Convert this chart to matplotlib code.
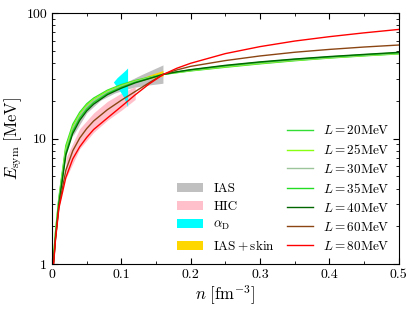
import matplotlib
matplotlib.use("Agg")
import matplotlib.pyplot as plt
from matplotlib.ticker import FixedLocator, FuncFormatter, LogLocator, NullFormatter

plt.rcParams["font.family"] = "cmr10"
plt.rcParams["mathtext.fontset"] = "cm"
plt.rcParams["axes.formatter.use_mathtext"] = True
plt.rcParams["axes.unicode_minus"] = False

# density grid (fm^-3) shared by the L-curves
n_grid = [0.002, 0.005, 0.01, 0.02, 0.03, 0.04, 0.05, 0.06, 0.08, 0.1, 0.12, 0.14,
          0.16, 0.18, 0.2, 0.25, 0.3, 0.35, 0.4, 0.45, 0.5]

e_L20 = [1.1, 1.8, 3.4, 8.8, 13.0, 16.2, 18.9, 21.0, 24.3, 26.9, 29.0, 30.8,
         32.4, 33.5, 34.6, 37.0, 39.4, 41.7, 43.8, 45.6, 47.3]
e_L25 = [1.08, 1.75, 3.3, 8.4, 12.5, 15.7, 18.4, 20.5, 23.9, 26.5, 28.7, 30.6,
         32.4, 33.6, 34.8, 37.3, 39.7, 42.0, 44.0, 45.8, 47.5]
e_L30 = [1.05, 1.7, 3.2, 8.0, 12.0, 15.2, 17.9, 20.0, 23.4, 26.1, 28.4, 30.4,
         32.4, 33.8, 35.0, 37.7, 40.1, 42.3, 44.3, 46.1, 47.8]
e_L35 = [1.03, 1.65, 3.1, 7.7, 11.5, 14.6, 17.2, 19.4, 22.9, 25.7, 28.1, 30.2,
         32.4, 33.9, 35.2, 38.0, 40.5, 42.7, 44.7, 46.5, 48.2]
e_L40 = [1.0, 1.6, 3.0, 7.4, 11.0, 14.0, 16.6, 18.8, 22.4, 25.2, 27.8, 30.0,
         32.4, 34.0, 35.4, 38.3, 40.8, 43.0, 45.0, 46.8, 48.6]
e_L60 = [0.97, 1.6, 2.9, 5.6, 8.0, 10.1, 12.0, 13.8, 17.0, 20.2, 23.7, 27.8,
         32.4, 35.2, 37.6, 41.8, 45.5, 48.7, 51.3, 53.6, 55.6]
e_L80 = [0.95, 1.55, 2.8, 4.9, 6.9, 8.6, 10.2, 11.8, 14.6, 18.0, 22.3, 27.2,
         32.3, 36.3, 39.8, 47.5, 54.0, 59.8, 64.8, 69.5, 74.0]

L_values = [20, 25, 30, 35, 40, 60, 80]
L_curves = [e_L20, e_L25, e_L30, e_L35, e_L40, e_L60, e_L80]
L_colors = ["#33dd33", "#88ff11", "#9cc59c", "#22dd22", "#006600", "#8b4513", "#ff0000"]

# constraint bands
ias_n = [0.03, 0.05, 0.07, 0.09, 0.11, 0.13, 0.16]
ias_lo = [10.5, 16.0, 20.2, 23.0, 25.0, 26.3, 27.6]
ias_hi = [12.5, 18.5, 22.6, 25.8, 28.7, 32.5, 38.6]

hic_n = [0.02, 0.04, 0.06, 0.08, 0.1, 0.12]
hic_lo = [4.8, 8.3, 11.2, 14.0, 16.8, 20.5]
hic_hi = [7.0, 12.0, 16.0, 19.8, 23.0, 26.0]

ad_n = [0.0885, 0.094, 0.099, 0.103, 0.106, 0.109]
ad_lo = [28.2, 25.6, 23.4, 21.5, 19.8, 17.9]
ad_hi = [28.2, 30.6, 32.4, 33.9, 35.1, 36.5]

skin_n = [0.125, 0.14, 0.16]
skin_lo = [28.5, 30.0, 31.5]
skin_hi = [29.5, 32.0, 34.8]

fig = plt.figure(figsize=(4.14, 3.10), dpi=100)
ax = fig.add_axes([0.1256, 0.148, 0.8374, 0.81])

b1 = ax.fill_between(ias_n, ias_lo, ias_hi, color="#c0c0c0", lw=0, label="IAS")
b2 = ax.fill_between(hic_n, hic_lo, hic_hi, color="pink", lw=0, label="HIC")
b3 = ax.fill_between(ad_n, ad_lo, ad_hi, color="cyan", lw=0, label=r"$\alpha_{\rm D}$")
b4 = ax.fill_between(skin_n, skin_lo, skin_hi, color="gold", lw=0, label=r"$\rm IAS+skin$")

lines = []
for L, e, c in zip(L_values, L_curves, L_colors):
    ln, = ax.plot(n_grid, e, color=c, lw=1.0, label=r"$L=%d{\rm MeV}$" % L)
    lines.append(ln)

ax.set_yscale("log")
ax.set_xlim(0, 0.5)
ax.set_ylim(1, 100)

ax.xaxis.set_major_locator(FixedLocator([0, 0.1, 0.2, 0.3, 0.4, 0.5]))
ax.xaxis.set_minor_locator(FixedLocator([0.05, 0.15, 0.25, 0.35, 0.45]))
ax.xaxis.set_major_formatter(FuncFormatter(lambda v, p: "0" if v == 0 else "%.1f" % v))
ax.yaxis.set_major_locator(FixedLocator([1, 10, 100]))
ax.yaxis.set_minor_locator(LogLocator(base=10, subs=range(2, 10)))
ax.yaxis.set_major_formatter(FuncFormatter(lambda v, p: "%d" % v))
ax.yaxis.set_minor_formatter(NullFormatter())
ax.tick_params(which="both", direction="in", top=True, right=True, labelsize=10)
ax.tick_params(which="major", length=4)
ax.tick_params(which="minor", length=2)

ax.set_xlabel(r"$n\ [{\rm fm}^{-3}]$", fontsize=12, labelpad=2)
ax.set_ylabel(r"$E_{\rm sym}\ [{\rm MeV}]$", fontsize=12, labelpad=2)

leg1 = ax.legend(handles=[b1, b2, b3, b4], loc="lower left", bbox_to_anchor=(0.3605, 0.045),
                 frameon=False, fontsize=9.5, handlelength=2.0, handletextpad=0.76,
                 labelspacing=0.45, borderpad=0, borderaxespad=0)
ax.add_artist(leg1)
ax.legend(handles=lines, loc="lower left", bbox_to_anchor=(0.678, 0.045), frameon=False,
          fontsize=9.5, handlelength=2.0, handletextpad=0.76, labelspacing=0.45,
          borderpad=0, borderaxespad=0)

fig.savefig("out.png", dpi=100)
